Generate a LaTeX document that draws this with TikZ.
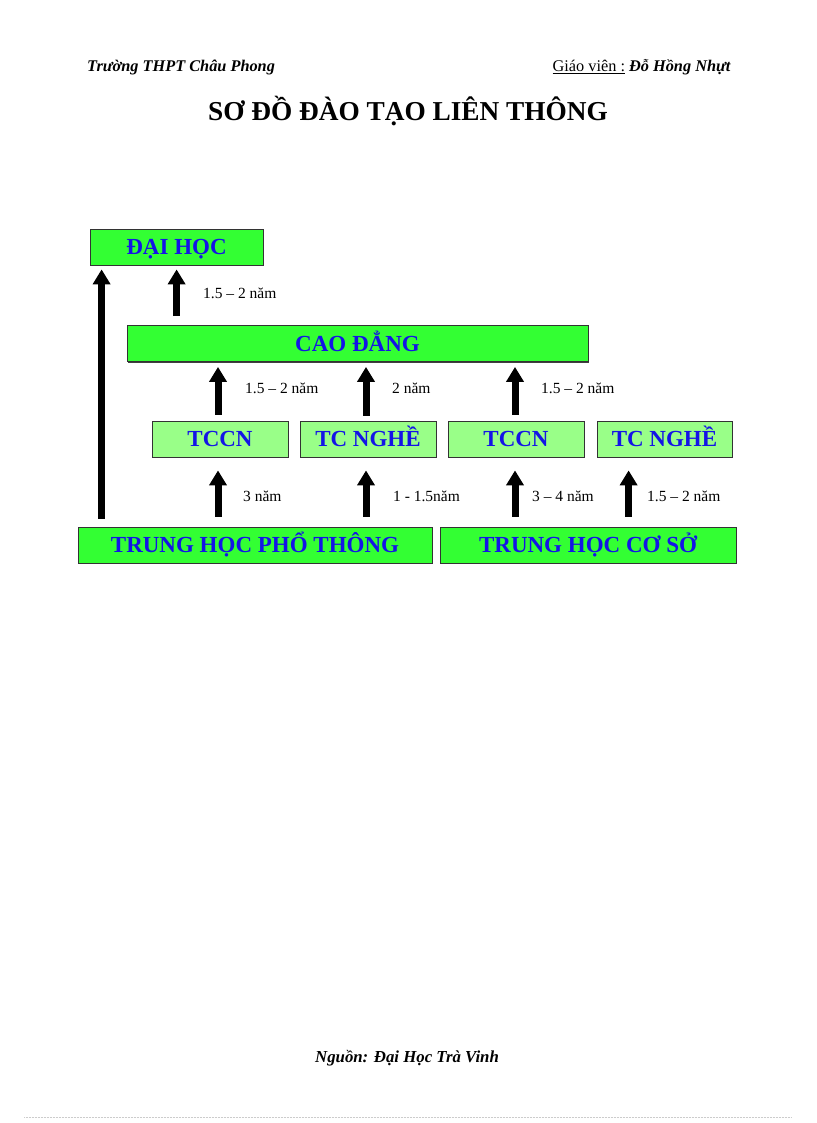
\documentclass[tikz,border=0pt]{standalone}
\usepackage{fontspec}
\setmainfont{Liberation Serif}
\usetikzlibrary{arrows.meta,calc,shadows}
\definecolor{brightgreen}{HTML}{33FF33}
\definecolor{palegreen}{HTML}{99FF88}
\definecolor{boxblue}{HTML}{1414E6}
\definecolor{edgegray}{HTML}{333333}
\begin{document}
\begin{tikzpicture}[x=1pt,y=-1pt,
  box/.style={draw=edgegray, line width=0.8pt, inner sep=0pt, minimum height=36pt,
    text height=15.2pt, text depth=0pt, font=\fontsize{23}{23}\selectfont\bfseries,
    text=boxblue, drop shadow={shadow xshift=1.2pt, shadow yshift=-1.2pt, fill=black!75, opacity=1}},
  mainbox/.style={box, fill=brightgreen},
  subbox/.style={box, fill=palegreen},
  arr/.style={line width=7pt, -{Triangle[width=17pt,length=15pt]}},
  lbl/.style={anchor=base west, inner sep=0pt, font=\fontsize{15.5}{15.5}\selectfont},
  hdr/.style={inner sep=0pt, font=\fontsize{16.3}{16}\selectfont}]
\useasboundingbox[fill=white] (0,0) rectangle (816,1123);

% header
\node[hdr, anchor=base west, font=\fontsize{16.3}{16}\selectfont\bfseries\itshape] (school) at (87,72) {Trường THPT Châu Phong};
\node[hdr, anchor=base east] (teacher) at (731,72) {\underline{Giáo viên :} \textbf{\textit{Đỗ Hồng Nhựt}}};
\node[inner sep=0pt, anchor=base, font=\fontsize{27.3}{27}\selectfont\bfseries] (title) at (408,121) {SƠ ĐỒ ĐÀO TẠO LIÊN THÔNG};

% boxes
\node[mainbox, minimum width=173pt] (dh) at (176.5,247) {ĐẠI HỌC};
\node[mainbox, minimum width=461pt] (cd) at (357.5,343.5) {CAO ĐẲNG};
\node[subbox, minimum width=136pt] (tccn1) at (220,439) {TCCN};
\node[subbox, minimum width=136pt] (tcn1) at (368,439) {TC NGHỀ};
\node[subbox, minimum width=136pt] (tccn2) at (516,439) {TCCN};
\node[subbox, minimum width=135pt] (tcn2) at (664.5,439) {TC NGHỀ};
\node[mainbox, minimum width=354pt] (thpt) at (255,545) {TRUNG HỌC PHỔ THÔNG};
\node[mainbox, minimum width=296pt] (thcs) at (588,545) {TRUNG HỌC CƠ SỞ};

% arrow anchor points
\coordinate (cdA) at ($(cd.north west)+(50,0)$);
\coordinate (dhA) at ($(dh.south west)+(87,0)$);
\coordinate (thptA) at ($(thpt.north west)+(24,0)$);
\coordinate (dhB) at ($(dh.south west)+(12,0)$);
\coordinate (tcn2A) at ($(tcn2.south west)+(32,0)$);

% arrows
\draw[arr, shorten <=9pt, shorten >=4pt] (cdA) -- (dhA);
\draw[arr, shorten <=8pt, shorten >=4pt] (thptA) -- (dhB);
\draw[arr, shorten <=6pt, shorten >=5pt] ([xshift=-2pt]tccn1.north) -- ([xshift=-2pt]tccn1.north |- cd.south);
\draw[arr, shorten <=5pt, shorten >=5pt] ([xshift=-2pt]tcn1.north) -- ([xshift=-2pt]tcn1.north |- cd.south);
\draw[arr, shorten <=6pt, shorten >=5pt] ([xshift=-1pt]tccn2.north) -- ([xshift=-1pt]tccn2.north |- cd.south);
\draw[arr, shorten <=10pt, shorten >=13pt] ([xshift=-2pt]tccn1.south |- thpt.north) -- ([xshift=-2pt]tccn1.south);
\draw[arr, shorten <=10pt, shorten >=13pt] ([xshift=-2pt]tcn1.south |- thpt.north) -- ([xshift=-2pt]tcn1.south);
\draw[arr, shorten <=10pt, shorten >=13pt] ([xshift=-1pt]tccn2.south |- thcs.north) -- ([xshift=-1pt]tccn2.south);
\draw[arr, shorten <=10pt, shorten >=13pt] (tcn2A |- thcs.north) -- (tcn2A);

% labels
\node[lbl] (l1) at (203,298) {1.5 – 2 năm};
\node[lbl] (l2) at (245,393) {1.5 – 2 năm};
\node[lbl] (l3) at (392,393) {2 năm};
\node[lbl] (l4) at (541,393) {1.5 – 2 năm};
\node[lbl] (l5) at (243,501) {3 năm};
\node[lbl] (l6) at (393,501) {1 - 1.5năm};
\node[lbl] (l7) at (532,501) {3 – 4 năm};
\node[lbl] (l8) at (647,501) {1.5 – 2 năm};

% footer
\node[inner sep=0pt, anchor=base, font=\fontsize{16.8}{17}\selectfont\bfseries\itshape] (source) at (407,1062) {Nguồn: Đại Học Trà Vinh};
\draw[black!20, densely dotted, line width=0.5pt] (24,1117) -- (792,1117);
\end{tikzpicture}
\end{document}
